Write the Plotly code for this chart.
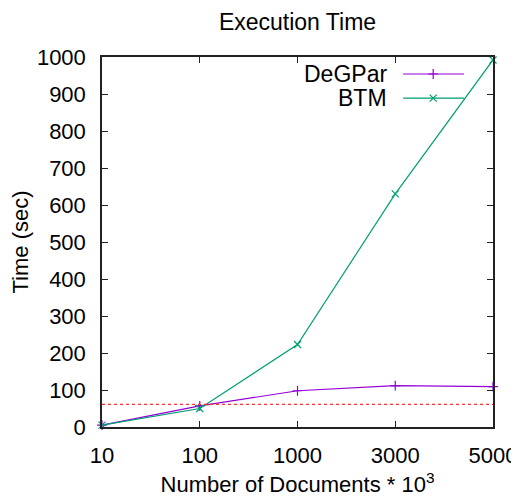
import plotly.graph_objects as go

categories = ["10", "100", "1000", "3000", "5000"]
degpar = [5, 57, 98, 112, 109]
btm = [5, 50, 223, 630, 992]
ref_line = 61

PURPLE = "#9400D3"
GREEN = "#009E73"
RED = "#FF3030"
FONT = "Liberation Sans, Arial, sans-serif"
FS = 22

# page body has an 8px default margin, so the figure is drawn 8px smaller
W, H = 511, 489

xi = list(range(len(categories)))

fig = go.Figure()
fig.add_trace(go.Scatter(x=xi, y=degpar, mode="lines+markers", name="DeGPar",
                         line=dict(color=PURPLE, width=1.2),
                         marker=dict(symbol="cross-thin-open", size=7, color=PURPLE,
                                     line=dict(color=PURPLE, width=1.2)),
                         showlegend=False, cliponaxis=False))
fig.add_trace(go.Scatter(x=xi, y=btm, mode="lines+markers", name="BTM",
                         line=dict(color=GREEN, width=1.2),
                         marker=dict(symbol="x-thin-open", size=7, color=GREEN,
                                     line=dict(color=GREEN, width=1.2)),
                         showlegend=False, cliponaxis=False))

fig.add_shape(type="line", xref="paper", x0=0, x1=1, yref="y", y0=ref_line, y1=ref_line,
              line=dict(color=RED, width=1.2, dash="dot"))

# gnuplot-style legend: text right-aligned, sample line to the right
legend_items = [("DeGPar", PURPLE, "cross-thin-open"), ("BTM", GREEN, "x-thin-open")]
leg_y = [0.954, 0.889]
for (name, col, sym), ly in zip(legend_items, leg_y):
    fig.add_annotation(xref="paper", yref="paper", x=0.733, y=ly, text=name,
                       showarrow=False, xanchor="right", yanchor="middle",
                       font=dict(size=23, color="black", family=FONT))
    fig.add_shape(type="line", xref="paper", yref="paper", x0=0.770, x1=0.926, y0=ly, y1=ly,
                  line=dict(color=col, width=1.2))
    fig.add_trace(go.Scatter(x=[0.847], y=[ly], xaxis="x2", yaxis="y2", mode="markers",
                             marker=dict(symbol=sym, size=7, color=col, line=dict(color=col, width=1.2)),
                             showlegend=False, hoverinfo="skip"))

fig.update_layout(
    width=W, height=H,
    margin=dict(l=94, r=26, t=49, b=70),
    paper_bgcolor="white", plot_bgcolor="white",
    font=dict(family=FONT, size=FS, color="black"),
    title=dict(text="Execution Time", x=0.5, xanchor="center", xref="paper",
               y=1 - 14 / H, yref="container", yanchor="middle",
               font=dict(size=23, family=FONT)),
    xaxis=dict(range=[0, 4], tickmode="array", tickvals=xi, ticktext=categories,
               showgrid=False, zeroline=False, showline=True, linecolor="#222", linewidth=1.5,
               mirror="ticks", ticks="inside", ticklen=6, tickcolor="#222",
               automargin=False, ticklabelstandoff=8,
               title=dict(text="Number of Documents * 10<sup>3</sup>", font=dict(size=FS), standoff=10),
               tickfont=dict(size=FS)),
    yaxis=dict(range=[0, 1000], tickmode="array", tickvals=list(range(0, 1001, 100)),
               showgrid=False, zeroline=False, showline=True, linecolor="#222", linewidth=1.5,
               mirror="ticks", ticks="inside", ticklen=6, tickcolor="#222",
               automargin=False, ticklabelstandoff=10,
               title=dict(text="Time (sec)", font=dict(size=FS), standoff=5),
               tickfont=dict(size=FS)),
    xaxis2=dict(overlaying="x", range=[0, 1], visible=False),
    yaxis2=dict(overlaying="y", range=[0, 1], visible=False),
    showlegend=False,
)

fig.write_html("out.html")
